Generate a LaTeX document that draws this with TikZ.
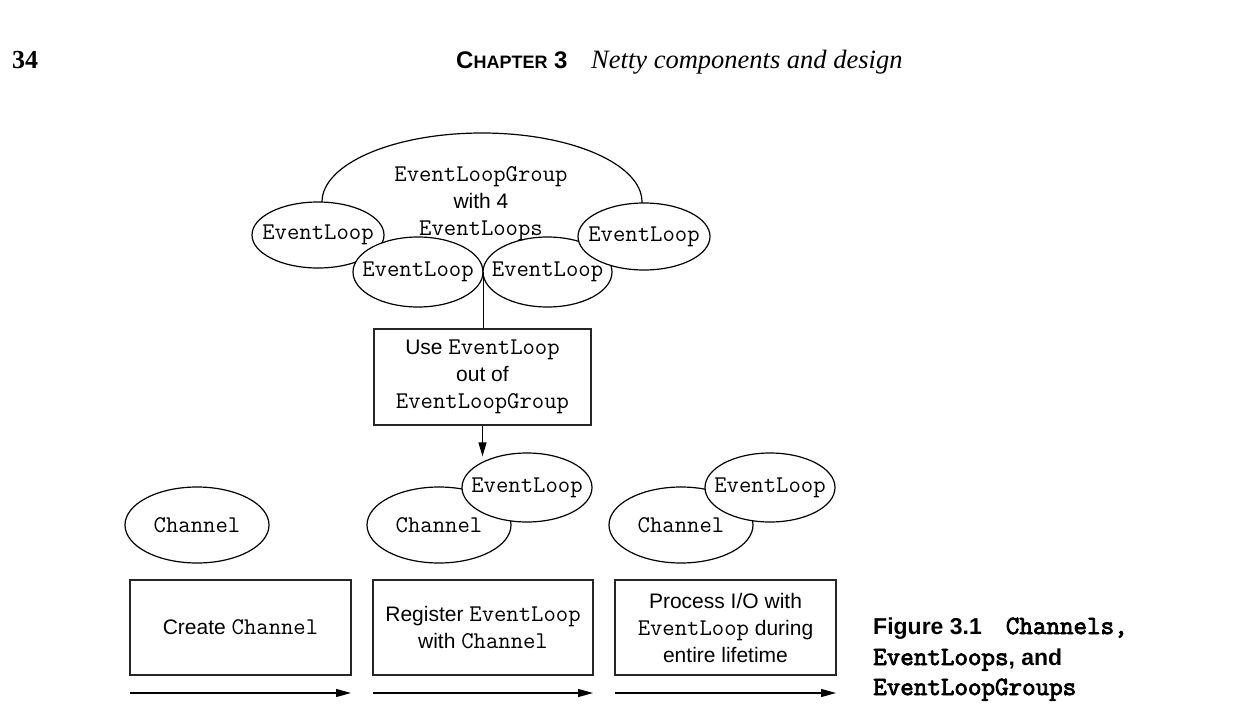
\documentclass[tikz,border=0pt]{standalone}
\usepackage{fontspec}
\setmainfont{Liberation Sans}
\setmonofont{Latin Modern Mono}[Scale=1.143, BoldFont={Latin Modern Mono}, BoldFeatures={FakeBold=3}]
\newfontfamily\serifhead{Liberation Serif}
\usetikzlibrary{shapes.geometric,arrows.meta}
\newcommand\code[1]{{\ttfamily #1}}
\begin{document}
\begin{tikzpicture}[x=1pt,y=-1pt,
  every node/.style={font=\fontsize{21}{27}\selectfont, align=center, inner sep=0pt},
  ell/.style={ellipse, draw=black, fill=white, line width=1.2pt, inner sep=0pt},
  stepbox/.style={rectangle, draw=black!85, line width=1.3pt, minimum width=221pt, minimum height=95pt},
  flow/.style={line width=1.2pt, -{Triangle[length=15pt,width=8pt]}},
  hd/.style={anchor=base west},
  captext/.style={anchor=base west, font=\bfseries\fontsize{23}{30}\selectfont}]
\useasboundingbox (0,0) rectangle (1235,723);

% header
\node[hd, font=\serifhead\bfseries\fontsize{26}{30}\selectfont] (pg) at (12,68) {34};
\node[hd, font=\bfseries\fontsize{24}{30}\selectfont] (chap) at (456,68) {C{\fontsize{18}{20}\selectfont HAPTER} 3};
\node[hd, font=\serifhead\itshape\fontsize{26.5}{30}\selectfont] (title) at (591,68) {Netty components and design};

% EventLoopGroup
\node[ell, minimum width=320pt, minimum height=138pt] (grp) at (482,202) {};
\node[ell, minimum width=132pt, minimum height=66pt] (el1) at (318,235) {};
\node[ell, minimum width=130pt, minimum height=70pt] (el2) at (418,272) {};
\node[ell, minimum width=129pt, minimum height=70pt] (el3) at (547.5,272) {};
\node[ell, minimum width=132pt, minimum height=67pt] (el4) at (644,236.5) {};
\node (grpt) at (481,204) {\code{EventLoopGroup}\\with 4\\\code{EventLoops}};
\node (el1t) at (el1) {\code{EventLoop}};
\node (el2t) at (el2) {\code{EventLoop}};
\node (el3t) at (el3) {\code{EventLoop}};
\node (el4t) at (el4) {\code{EventLoop}};

% use box
\node[stepbox, minimum width=217pt, minimum height=96pt] (use) at (482.5,377)
  {Use \code{EventLoop}\\out of\\\code{EventLoopGroup}};
\draw[line width=1.2pt] (el2.east) -- (el2.east |- use.north);

% bottom ellipses
\node[ell, minimum width=144pt, minimum height=76pt] (ch1) at (197,525) {};
\node[ell, minimum width=144pt, minimum height=76pt] (ch2) at (439,525) {};
\node[ell, minimum width=130pt, minimum height=69pt] (ev2) at (527,487.5) {};
\node[ell, minimum width=144pt, minimum height=76pt] (ch3) at (681,525) {};
\node[ell, minimum width=130pt, minimum height=69pt] (ev3) at (770,487.5) {};
\node (ch1t) at (ch1) {\code{Channel}};
\node (ch2t) at (ch2) {\code{Channel}};
\node (ev2t) at (ev2) {\code{EventLoop}};
\node (ch3t) at (ch3) {\code{Channel}};
\node (ev3t) at (ev3) {\code{EventLoop}};

\draw[line width=1.2pt, -{Triangle[length=14pt,width=8pt]}, shorten >=-4pt] (use.south) -- (use.south |- ev2.north);

% step boxes
\node[stepbox] (b1) at (240.5,627.5) {Create \code{Channel}};
\node[stepbox, minimum width=220pt] (b2) at (483,627.5) {Register \code{EventLoop}\\with \code{Channel}};
\node[stepbox] (b3) at (725.5,627.5) {Process I/O with\\\code{EventLoop} during\\entire lifetime};

% timeline arrows
\coordinate (a1s) at (130,693); \coordinate (a1e) at (351,693);
\coordinate (a2s) at (373,693); \coordinate (a2e) at (593,693);
\coordinate (a3s) at (615,693); \coordinate (a3e) at (836,693);
\draw[flow] (a1s) -- (a1e);
\draw[flow] (a2s) -- (a2e);
\draw[flow] (a3s) -- (a3e);

% caption
\node[captext] (cap1) at (873,634) {Figure 3.1\hspace{24pt}\code{Channels,}};
\node[captext] (cap2) at (873,665) {\code{EventLoops}, and};
\node[captext] (cap3) at (873,695) {\code{EventLoopGroups}};
\end{tikzpicture}
\end{document}
